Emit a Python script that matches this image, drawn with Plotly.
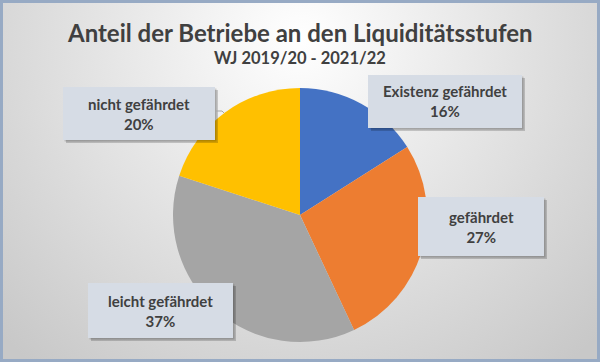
import plotly.graph_objects as go
import urllib.parse

categories = ["Existenz gefährdet", "gefährdet", "leicht gefährdet", "nicht gefährdet"]
values = [16, 27, 37, 20]
colors = ["#4472C4", "#ED7D31", "#A5A5A5", "#FFC000"]
title_text = "Anteil der Betriebe an den Liquiditätsstufen"
subtitle_text = "WJ 2019/20 - 2021/22"

W, H = 600, 362
# label boxes in pixel coords (left, top, right, bottom)
boxes = [(368, 75, 522, 128), (418, 197, 544, 256), (88, 283, 233, 338), (63, 87, 215, 140)]

def px(x):
    return x / W

def py(y):
    return 1 - y / H

svg = (
    '<svg xmlns="http://www.w3.org/2000/svg" width="600" height="362" viewBox="0 0 600 362" preserveAspectRatio="none">'
    '<defs><radialGradient id="g" cx="300" cy="40" r="420" gradientUnits="userSpaceOnUse">'
    '<stop offset="0" stop-color="#ffffff"/><stop offset="0.45" stop-color="#e6e6e6"/>'
    '<stop offset="1" stop-color="#c8c8c8"/></radialGradient></defs>'
    '<rect x="0" y="0" width="600" height="362" fill="url(#g)"/>'
    '<rect x="1.5" y="1.5" width="597" height="359" fill="none" stroke="#97aac4" stroke-width="3"/>'
    '</svg>'
)
bg_src = "data:image/svg+xml;charset=utf-8," + urllib.parse.quote(svg)

fig = go.Figure()
fig.add_trace(go.Pie(
    labels=categories, values=values, sort=False, direction="clockwise", rotation=0,
    marker=dict(colors=colors, line=dict(width=0)),
    textinfo="none", hoverinfo="label+percent", showlegend=False,
    domain=dict(x=[px(173), px(427)], y=[py(342), py(88)]),
))

shapes = []
annotations = []
for (l, t, r, b), name, v in zip(boxes, categories, values):
    shapes.append(dict(type="rect", xref="paper", yref="paper", layer="above",
                       x0=px(l + 3), x1=px(r + 3), y0=py(b + 3), y1=py(t + 3),
                       fillcolor="rgba(0,0,0,0.18)", line=dict(width=0)))
    shapes.append(dict(type="rect", xref="paper", yref="paper", layer="above",
                       x0=px(l + 1.5), x1=px(r + 1.5), y0=py(b + 1.5), y1=py(t + 1.5),
                       fillcolor="rgba(0,0,0,0.15)", line=dict(width=0)))
    shapes.append(dict(type="rect", xref="paper", yref="paper", layer="above",
                       x0=px(l), x1=px(r), y0=py(b), y1=py(t),
                       fillcolor="#D6DCE5", line=dict(width=0)))
    annotations.append(dict(xref="paper", yref="paper", x=px((l + r) / 2), y=py((t + b) / 2),
                            xanchor="center", yanchor="middle", showarrow=False,
                            text=f"<b>{name}<br>{v}%</b>",
                            font=dict(family="Lato", size=15, color="#404040")))

# small leader line for "nicht gefährdet"
shapes.append(dict(type="path", xref="paper", yref="paper", layer="above",
                   path=f"M {px(215)} {py(111)} L {px(222)} {py(111)} L {px(224)} {py(113)}",
                   line=dict(color="#a6a6a6", width=1)))

annotations.append(dict(xref="paper", yref="paper", x=0.5, y=py(32), xanchor="center", yanchor="middle",
                        showarrow=False, text=f"<b>{title_text}</b>",
                        font=dict(family="Lato", size=24, color="#404040")))
annotations.append(dict(xref="paper", yref="paper", x=0.5, y=py(58), xanchor="center", yanchor="middle",
                        showarrow=False, text=f"<b>{subtitle_text}</b>",
                        font=dict(family="Lato", size=16.5, color="#404040")))

fig.update_layout(
    width=W, height=H, margin=dict(l=0, r=0, t=0, b=0),
    paper_bgcolor="#d9d9d9", plot_bgcolor="rgba(0,0,0,0)",
    images=[dict(source=bg_src, xref="paper", yref="paper", x=0, y=1, sizex=1, sizey=1,
                 sizing="stretch", xanchor="left", yanchor="top", layer="below")],
    shapes=shapes, annotations=annotations,
)
fig.write_html("out.html", config={"displayModeBar": False},
               post_script="document.body.style.margin='0';document.body.style.overflow='hidden';")
